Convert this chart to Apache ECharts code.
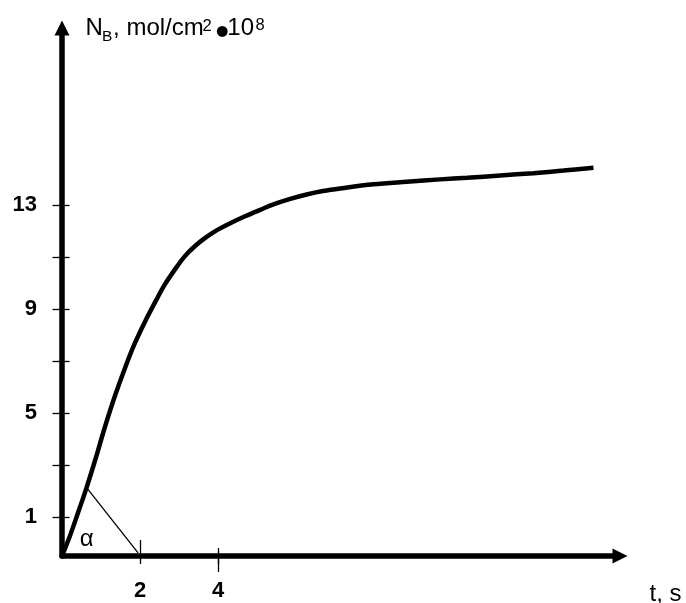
<!DOCTYPE html>
<html>
<head>
<meta charset="utf-8">
<script src="https://cdn.jsdelivr.net/npm/echarts@6/dist/echarts.min.js"></script>
<style>html,body{margin:0;padding:0;background:#fff}#c{width:686px;height:603px}</style>
</head>
<body>
<div id="c"></div>
<script>
// Curve N_B(t): t values and N_B values
var curveT = [0, 0.21, 0.41, 0.63, 0.85, 1.10, 1.36, 1.62, 1.87, 2.13, 2.39, 2.64, 2.90, 3.15, 3.41, 3.67, 3.92, 4.31, 4.69, 5.08, 5.42, 5.85, 6.27, 6.69, 7.13, 7.98, 8.84, 9.69, 10.38, 11.23, 12.08, 12.85, 13.62];
var curveN = [-0.5, 0.30, 1.16, 2.13, 3.19, 4.46, 5.67, 6.75, 7.69, 8.52, 9.27, 9.95, 10.53, 11.03, 11.42, 11.73, 11.98, 12.29, 12.56, 12.81, 13.02, 13.23, 13.40, 13.53, 13.63, 13.79, 13.89, 13.98, 14.04, 14.13, 14.22, 14.32, 14.43];
// Tangent construction line
var tangentT = [0.63, 1.95];
var tangentN = [2.13, -0.38];
// Ticks and labels
var yTickValues = [1, 3, 5, 7, 9, 11, 13];
var yLabelValues = [1, 5, 9, 13];
var xLabelValues = [2, 4];

var FONT = '"Liberation Sans", Arial, sans-serif';
var xMin = 0, xMax = 14.3, yMin = -0.5, yMax = 19.8;

function pairs(a, b) { return a.map(function (v, i) { return [v, b[i]]; }); }

function xAx(extra) {
  var base = {
    type: 'value', position: 'bottom', min: xMin, max: xMax, offset: 0,
    axisLine: { show: false, onZero: false },
    axisLabel: { show: false },
    splitLine: { show: false },
    axisTick: { show: false }
  };
  return Object.assign(base, extra);
}
function yAx(extra) {
  var base = {
    type: 'value', position: 'left', min: yMin, max: yMax, offset: 0,
    axisLine: { show: false, onZero: false },
    axisLabel: { show: false },
    splitLine: { show: false },
    axisTick: { show: false }
  };
  return Object.assign(base, extra);
}
var tickStyle = { color: '#000', width: 1.3 };
function txt(s, x, y, fs, align) {
  return { type: 'text', silent: true, x: x, y: y,
    style: { text: s, fontSize: fs, fontFamily: FONT, fill: '#000', verticalAlign: 'middle', align: align || 'left' } };
}

var chart = echarts.init(document.getElementById('c'), null, { renderer: 'canvas' });
chart.setOption({
  animation: false,
  backgroundColor: '#fff',
  grid: { left: 62, top: 28, right: 66, bottom: 47, containLabel: false, outerBoundsMode: 'none' },
  xAxis: [
    xAx({
      axisLine: { show: true, onZero: false, symbol: ['none', 'triangle'], symbolSize: [15, 15], lineStyle: { color: '#000', width: 5.5 } },
      axisTick: { show: true, inside: false, length: 8, customValues: xLabelValues, lineStyle: tickStyle },
      axisLabel: { show: true, customValues: xLabelValues, margin: 24, color: '#000', fontSize: 22, fontWeight: 'bold', fontFamily: FONT }
    }),
    xAx({ axisTick: { show: true, inside: false, length: 16, customValues: [4], lineStyle: tickStyle } }),
    xAx({ axisTick: { show: true, inside: true, length: 16, customValues: [2], lineStyle: tickStyle } }),
    xAx({ axisTick: { show: true, inside: true, length: 8, customValues: [4], lineStyle: tickStyle } })
  ],
  yAxis: [
    yAx({
      axisLine: { show: true, onZero: false, symbol: ['none', 'triangle'], symbolSize: [15, 15], lineStyle: { color: '#000', width: 5.5 } },
      axisTick: { show: true, inside: false, length: 9.5, customValues: yTickValues, lineStyle: tickStyle },
      axisLabel: { show: true, customValues: yLabelValues, margin: 25, color: '#000', fontSize: 22, fontWeight: 'bold', fontFamily: FONT }
    }),
    yAx({ axisTick: { show: true, inside: true, length: 7.5, customValues: yTickValues, lineStyle: tickStyle } })
  ],
  series: [
    {
      type: 'line', xAxisIndex: 0, yAxisIndex: 0, smooth: 0.35, symbol: 'none', clip: false,
      data: pairs(curveT, curveN),
      lineStyle: { color: '#000', width: 4.5 }, z: 5
    },
    {
      type: 'line', xAxisIndex: 0, yAxisIndex: 0, symbol: 'none', clip: false,
      data: pairs(tangentT, tangentN),
      lineStyle: { color: '#000', width: 1.3 }, z: 4
    }
  ],
  graphic: [
    txt('N', 85.5, 28.4, 24),
    txt('B', 102.1, 36.3, 15.5),
    txt(', mol/cm', 113.1, 28.4, 24),
    txt('2', 202.6, 26, 16.5),
    txt('\u2022', 222.2, 34.2, 40, 'center'),
    txt('10', 227.3, 28.4, 24),
    txt('8', 255.5, 25.3, 16.5),
    txt('t, s', 649.5, 594.2, 24),
    txt('α', 86.7, 539.3, 24, 'center')
  ]
});
</script>
</body>
</html>
